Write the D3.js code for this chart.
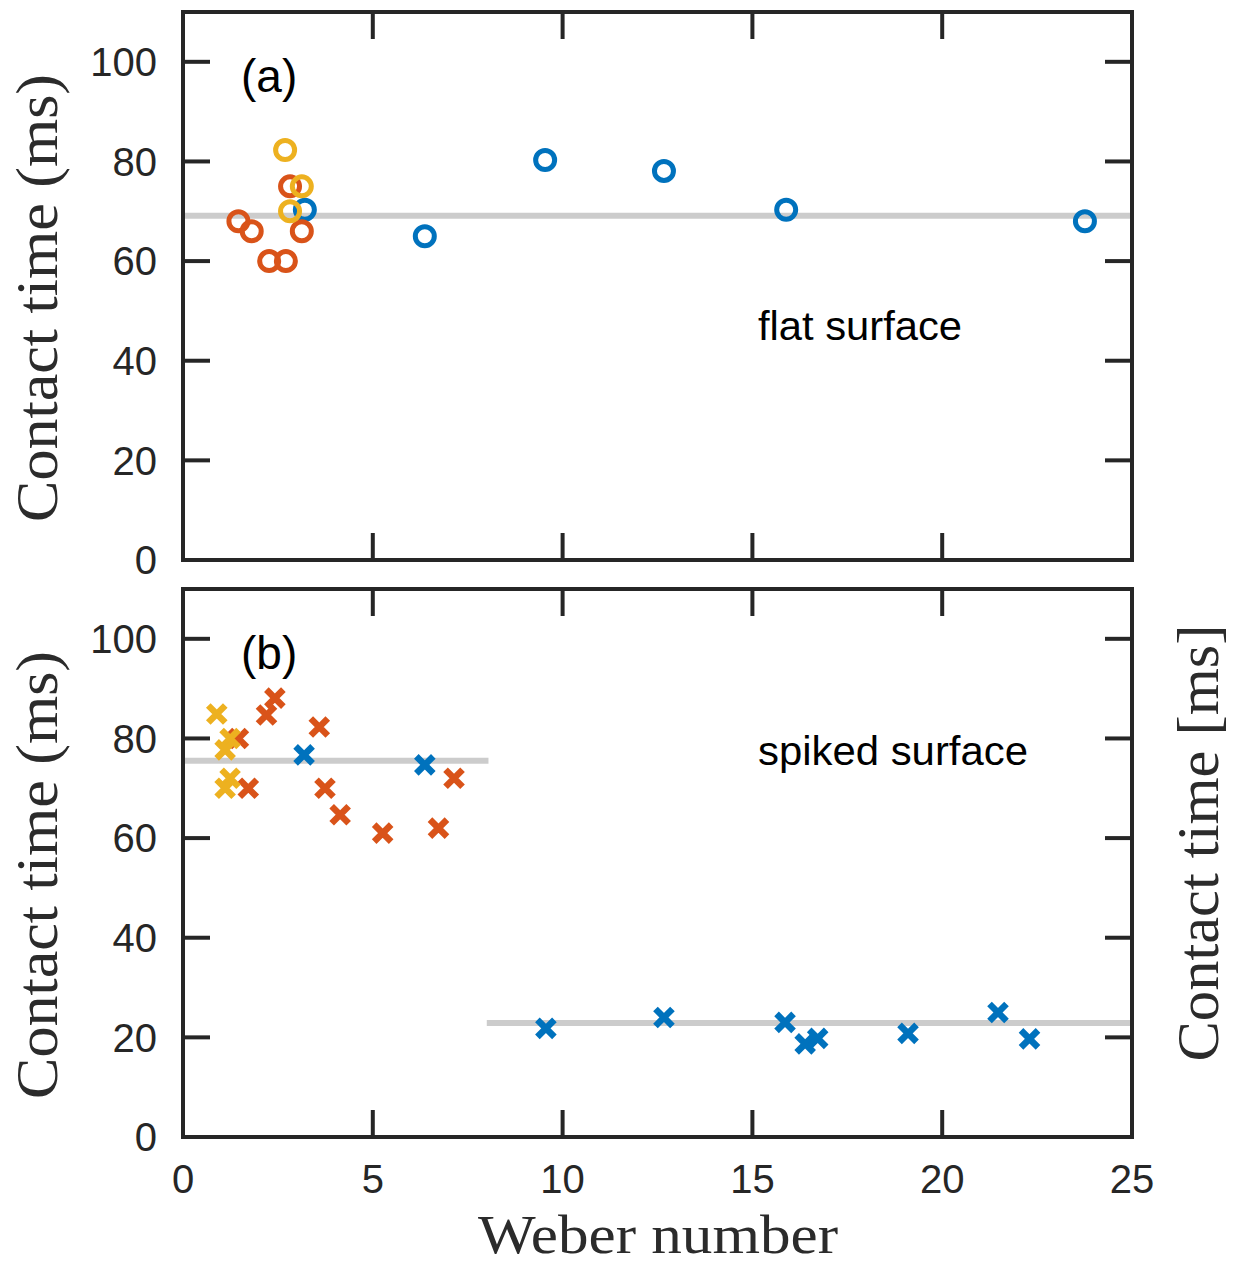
<!DOCTYPE html>
<html>
<head>
<meta charset="utf-8">
<script src="https://cdn.jsdelivr.net/npm/d3@7"></script>
<style>
  body { margin: 0; background: #fff; }
  svg { display: block; }
</style>
</head>
<body>
<div id="chart"></div>
<script>
// Weber number / contact time readings (MATLAB default colours per series)
const flatBlueWe = [3.21, 6.37, 9.54, 12.67, 15.89, 23.76];
const flatBlueT = [70.3, 65, 80.3, 78.1, 70.3, 68];
const flatOrangeWe = [1.46, 1.81, 2.27, 2.71, 2.82, 3.13];
const flatOrangeT = [68, 66, 60, 60, 75, 66];
const flatYellowWe = [2.69, 3.13, 2.82];
const flatYellowT = [82.3, 75, 70];

const spikedBlueWe = [3.19, 6.37, 9.56, 12.67, 15.86, 16.39, 16.72, 19.1, 21.47, 22.3];
const spikedBlueT = [76.7, 74.7, 21.8, 24, 23, 18.7, 19.8, 20.8, 25, 19.7];
const spikedOrangeWe = [1.46, 1.72, 2.2, 2.42, 3.59, 3.74, 4.14, 5.26, 6.73, 7.14];
const spikedOrangeT = [80, 70, 84.7, 88.1, 82.3, 70, 64.7, 61, 62, 72];
const spikedYellowWe = [0.89, 1.24, 1.11, 1.24, 1.11];
const spikedYellowT = [84.9, 80, 77.7, 72, 70];

// mean lines: [x0, x1, value]
const flatMeans = [[0, 25, 69.1]];
const spikedMeans = [[0, 8.1, 75.5], [7.95, 25, 22.9]];

const xTicks = [0, 5, 10, 15, 20, 25];
const yTicks = [0, 20, 40, 60, 80, 100];

const width = 1238, height = 1265;
const left = 183, right = 1132;
const axisColor = '#262626';
const colors = { blue: '#0072BD', orange: '#D95319', yellow: '#EDB120' };

const svg = d3.select('#chart').append('svg')
    .attr('width', width)
    .attr('height', height);

const x = d3.scaleLinear().domain([0, 25]).range([left, right]);

function zip(a, b) { return a.map((v, i) => [v, b[i]]); }

function drawPanel(top, bottom, opts) {
  const y = d3.scaleLinear().domain([0, 110]).range([bottom, top]);
  const g = svg.append('g');
  const tickLen = 27;

  // mean lines
  g.selectAll('line.mean')
    .data(opts.means)
    .enter().append('line')
    .attr('class', 'mean')
    .attr('x1', d => x(d[0]) + 2)
    .attr('x2', d => x(d[1]) - 2)
    .attr('y1', d => y(d[2]))
    .attr('y2', d => y(d[2]))
    .style('stroke', '#cccccc')
    .style('stroke-width', 6);

  // markers
  opts.series.forEach(s => {
    const pts = zip(s.we, s.t);
    if (opts.marker === 'circle') {
      g.selectAll(null).data(pts).enter().append('circle')
        .attr('cx', d => x(d[0]))
        .attr('cy', d => y(d[1]))
        .attr('r', 9.5)
        .style('fill', 'none')
        .style('stroke', s.color)
        .style('stroke-width', 5);
    } else {
      g.selectAll(null).data(pts).enter().append('path')
        .attr('transform', d => `translate(${x(d[0])},${y(d[1])})`)
        .attr('d', 'M-8.5,-8.5L8.5,8.5M-8.5,8.5L8.5,-8.5')
        .style('fill', 'none')
        .style('stroke', s.color)
        .style('stroke-width', 6.5);
    }
  });

  // ticks (inside, all four sides)
  const tk = g.append('g').style('stroke', axisColor).style('stroke-width', 4);
  yTicks.forEach(v => {
    tk.append('line').attr('x1', left).attr('x2', left + tickLen).attr('y1', y(v)).attr('y2', y(v));
    tk.append('line').attr('x1', right).attr('x2', right - tickLen).attr('y1', y(v)).attr('y2', y(v));
  });
  xTicks.forEach(v => {
    tk.append('line').attr('x1', x(v)).attr('x2', x(v)).attr('y1', bottom).attr('y2', bottom - tickLen);
    tk.append('line').attr('x1', x(v)).attr('x2', x(v)).attr('y1', top).attr('y2', top + tickLen);
  });

  // box
  g.append('rect')
    .attr('x', left).attr('y', top)
    .attr('width', right - left).attr('height', bottom - top)
    .style('fill', 'none')
    .style('stroke', axisColor)
    .style('stroke-width', 4);

  // y tick labels
  g.selectAll('text.ytick')
    .data(yTicks)
    .enter().append('text')
    .attr('x', left - 26)
    .attr('y', d => y(d))
    .attr('dy', '0.36em')
    .attr('text-anchor', 'end')
    .style('font-family', 'Liberation Sans, Arial, sans-serif')
    .style('font-size', '40px')
    .style('fill', axisColor)
    .text(d => d);

  if (opts.xLabels) {
    g.selectAll('text.xtick')
      .data(xTicks)
      .enter().append('text')
      .attr('x', d => x(d))
      .attr('y', bottom + 56)
      .attr('text-anchor', 'middle')
      .style('font-family', 'Liberation Sans, Arial, sans-serif')
      .style('font-size', '40px')
      .style('fill', axisColor)
      .text(d => d);
  }

  // panel letter and caption
  g.append('text')
    .attr('x', 241).attr('y', top + 80)
    .style('font-family', 'Liberation Sans, Arial, sans-serif')
    .style('font-size', '46px')
    .style('fill', '#000')
    .text(opts.letter);

  g.append('text')
    .attr('x', 758).attr('y', top + opts.captionDy)
    .attr('textLength', opts.captionLen)
    .attr('lengthAdjust', 'spacingAndGlyphs')
    .style('font-family', 'Liberation Sans, Arial, sans-serif')
    .style('font-size', '40px')
    .style('fill', '#000')
    .text(opts.caption);

  // y axis title
  g.append('text')
    .attr('transform', `translate(57,${(top + bottom) / 2 + 12}) rotate(-90)`)
    .attr('text-anchor', 'middle')
    .attr('textLength', 448)
    .attr('lengthAdjust', 'spacingAndGlyphs')
    .style('font-family', 'Liberation Serif, Times New Roman, serif')
    .style('font-size', '60px')
    .style('fill', '#2b2b2b')
    .text('Contact time (ms)');

  return y;
}

drawPanel(12, 560, {
  marker: 'circle',
  means: flatMeans,
  series: [
    { we: flatBlueWe, t: flatBlueT, color: colors.blue },
    { we: flatOrangeWe, t: flatOrangeT, color: colors.orange },
    { we: flatYellowWe, t: flatYellowT, color: colors.yellow }
  ],
  letter: '(a)',
  caption: 'flat surface',
  captionDy: 328,
  captionLen: 204,
  xLabels: false
});

drawPanel(589, 1137, {
  marker: 'cross',
  means: spikedMeans,
  series: [
    { we: spikedBlueWe, t: spikedBlueT, color: colors.blue },
    { we: spikedOrangeWe, t: spikedOrangeT, color: colors.orange },
    { we: spikedYellowWe, t: spikedYellowT, color: colors.yellow }
  ],
  letter: '(b)',
  caption: 'spiked surface',
  captionDy: 176,
  captionLen: 270,
  xLabels: true
});

// x axis title
svg.append('text')
  .attr('x', 658).attr('y', 1253)
  .attr('text-anchor', 'middle')
  .attr('textLength', 360)
  .attr('lengthAdjust', 'spacingAndGlyphs')
  .style('font-family', 'Liberation Serif, Times New Roman, serif')
  .style('font-size', '54px')
  .style('fill', '#2b2b2b')
  .text('Weber number');

// right-hand label
svg.append('text')
  .attr('transform', 'translate(1218,843) rotate(-90)')
  .attr('text-anchor', 'middle')
  .attr('textLength', 437)
  .attr('lengthAdjust', 'spacingAndGlyphs')
  .style('font-family', 'Liberation Serif, Times New Roman, serif')
  .style('font-size', '60px')
  .style('fill', '#2b2b2b')
  .text('Contact time [ms]');
</script>
</body>
</html>
